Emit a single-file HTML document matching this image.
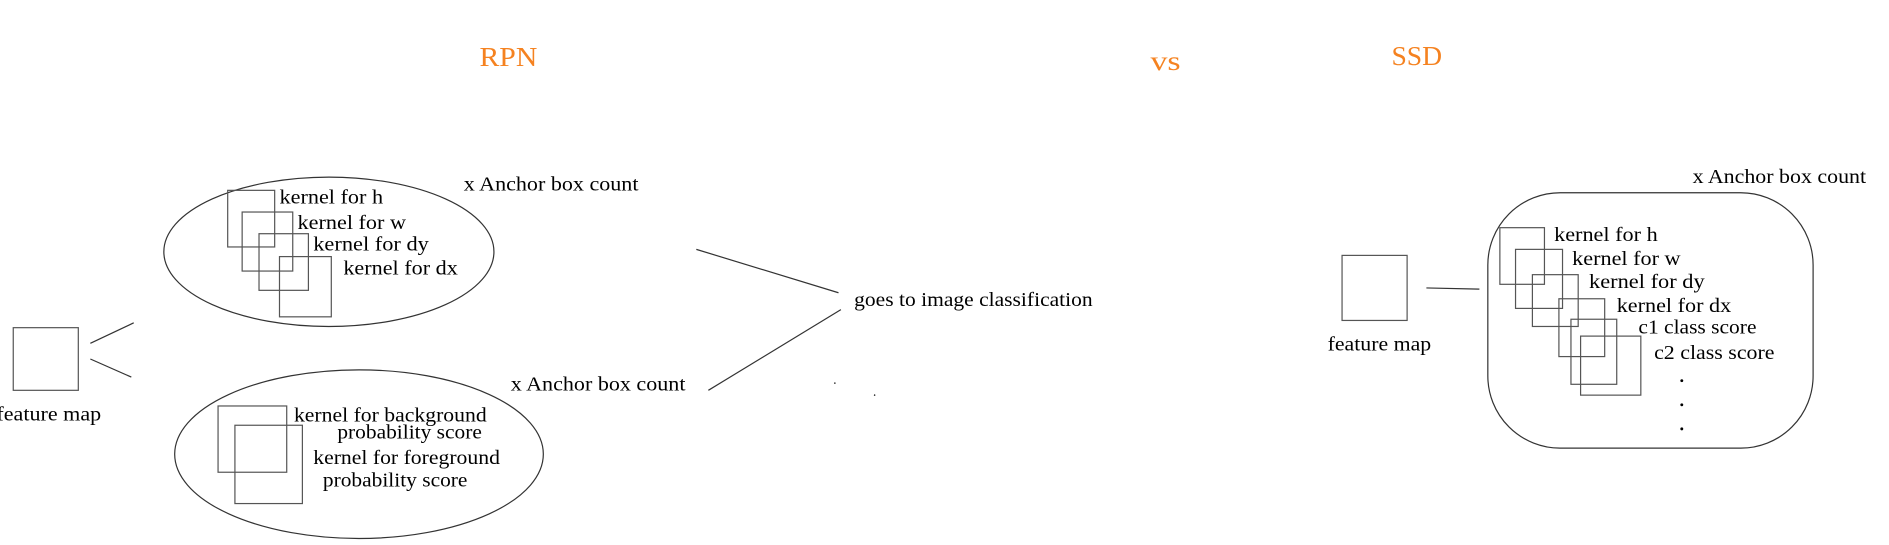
<!DOCTYPE html>
<html><head><style>html,body{margin:0;padding:0;background:#fff;}svg{display:block;}</style></head>
<body>
<svg width="1889" height="545" viewBox="0 0 1568 452.4" preserveAspectRatio="none" xmlns="http://www.w3.org/2000/svg" font-family="Liberation Serif, serif" font-size="17" fill="#000">
<g fill="#f58220" font-size="23">
<text x="398" y="55" textLength="48" lengthAdjust="spacingAndGlyphs">RPN</text>
<text x="955" y="58" textLength="25" lengthAdjust="spacingAndGlyphs">vs</text>
<text x="1155" y="54" textLength="42" lengthAdjust="spacingAndGlyphs">SSD</text>
</g>
<g fill="none" stroke="#333" stroke-width="1">
<rect x="11" y="272" width="54" height="52" stroke="#555"/>
<line x1="75" y1="285" x2="111" y2="268"/>
<line x1="75" y1="298" x2="109" y2="313"/>
<ellipse cx="273" cy="209" rx="137" ry="62"/>
<rect x="189" y="158" width="39" height="47" stroke="#555"/>
<rect x="201" y="176" width="42" height="49" stroke="#555"/>
<rect x="215" y="194" width="41" height="47" stroke="#555"/>
<rect x="232" y="213" width="43" height="50" stroke="#555"/>
<ellipse cx="298" cy="377" rx="153" ry="70"/>
<rect x="181" y="337" width="57" height="55" stroke="#555"/>
<rect x="195" y="353" width="56" height="65" stroke="#555"/>
<line x1="578" y1="207" x2="696" y2="243"/>
<line x1="588" y1="324" x2="698" y2="257"/>
<rect x="1114" y="212" width="54" height="54" stroke="#555"/>
<line x1="1184" y1="239" x2="1228" y2="240"/>
<rect x="1235" y="160" width="270" height="212" rx="60" ry="60"/>
<rect x="1245" y="189" width="37" height="47" stroke="#555"/>
<rect x="1258" y="207" width="39" height="49" stroke="#555"/>
<rect x="1272" y="228" width="38" height="43" stroke="#555"/>
<rect x="1294" y="248" width="38" height="48" stroke="#555"/>
<rect x="1304" y="265" width="38" height="54" stroke="#555"/>
<rect x="1312" y="279" width="50" height="49" stroke="#555"/>
</g>
<g>
<text x="-3" y="349" textLength="87" lengthAdjust="spacingAndGlyphs">feature map</text>
<text x="232" y="169" textLength="86" lengthAdjust="spacingAndGlyphs">kernel for h</text>
<text x="247" y="190" textLength="90" lengthAdjust="spacingAndGlyphs">kernel for w</text>
<text x="260" y="208" textLength="96" lengthAdjust="spacingAndGlyphs">kernel for dy</text>
<text x="285" y="228" textLength="95" lengthAdjust="spacingAndGlyphs">kernel for dx</text>
<text x="385" y="158" textLength="145" lengthAdjust="spacingAndGlyphs">x Anchor box count</text>
<text x="244" y="350" textLength="160" lengthAdjust="spacingAndGlyphs">kernel for background</text>
<text x="280" y="364" textLength="120" lengthAdjust="spacingAndGlyphs">probability score</text>
<text x="260" y="385" textLength="155" lengthAdjust="spacingAndGlyphs">kernel for foreground</text>
<text x="268" y="404" textLength="120" lengthAdjust="spacingAndGlyphs">probability score</text>
<text x="424" y="324" textLength="145" lengthAdjust="spacingAndGlyphs">x Anchor box count</text>
<text x="709" y="254" textLength="198" lengthAdjust="spacingAndGlyphs">goes to image classification</text>
<text x="1102" y="291" textLength="86" lengthAdjust="spacingAndGlyphs">feature map</text>
<text x="1405" y="152" textLength="144" lengthAdjust="spacingAndGlyphs">x Anchor box count</text>
<text x="1290" y="200" textLength="86" lengthAdjust="spacingAndGlyphs">kernel for h</text>
<text x="1305" y="220" textLength="90" lengthAdjust="spacingAndGlyphs">kernel for w</text>
<text x="1319" y="239" textLength="96" lengthAdjust="spacingAndGlyphs">kernel for dy</text>
<text x="1342" y="259" textLength="95" lengthAdjust="spacingAndGlyphs">kernel for dx</text>
<text x="1360" y="277" textLength="98" lengthAdjust="spacingAndGlyphs">c1 class score</text>
<text x="1373" y="298" textLength="100" lengthAdjust="spacingAndGlyphs">c2 class score</text>
</g>
<g fill="#000">
<circle cx="1396" cy="316" r="1.2"/>
<circle cx="1396" cy="336" r="1.2"/>
<circle cx="1396" cy="356" r="1.2"/>
<circle cx="693" cy="318" r="0.6"/>
<circle cx="726" cy="328" r="0.6"/>
</g>
</svg>
</body></html>
